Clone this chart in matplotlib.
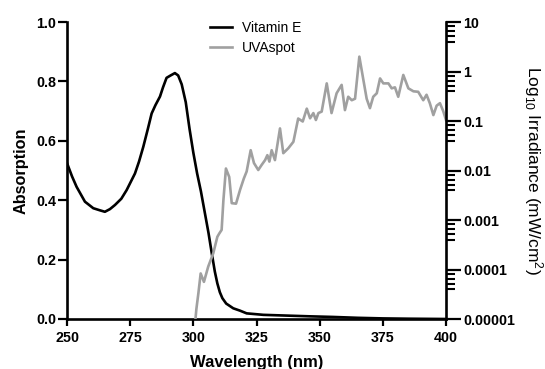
import numpy as np
import matplotlib
matplotlib.use('Agg')
import matplotlib.pyplot as plt
import matplotlib.ticker as ticker

plt.rcParams['font.family'] = ['Liberation Sans', 'DejaVu Sans']
plt.rcParams['mathtext.fontset'] = 'custom'
plt.rcParams['mathtext.rm'] = 'Liberation Sans'
plt.rcParams['mathtext.it'] = 'Liberation Sans:italic'
plt.rcParams['mathtext.bf'] = 'Liberation Sans:bold'

# Vitamin E absorption spectrum
vite_nm = [250, 252, 253.8, 257.1, 260.4, 263, 265, 267, 269, 271.5, 273.6, 276.9,
           278.5, 280.2, 282, 283.5, 285, 286.8, 288, 289.4, 291, 292.7, 294, 295.4,
           297, 298.5, 300, 301.5, 303, 304.5, 306, 307.3, 308.5, 309.5, 310.5, 311.5,
           313, 315.8, 318.5, 321.1, 327.7, 335, 346, 355, 365, 375, 385, 400]
vite_abs = [0.525, 0.48, 0.445, 0.395, 0.373, 0.366, 0.361, 0.37, 0.384, 0.405, 0.434, 0.49,
            0.53, 0.58, 0.64, 0.692, 0.72, 0.749, 0.78, 0.812, 0.82, 0.828, 0.82, 0.79,
            0.73, 0.64, 0.56, 0.49, 0.43, 0.36, 0.29, 0.221, 0.16, 0.12, 0.09, 0.07,
            0.052, 0.036, 0.028, 0.019, 0.014, 0.012, 0.009, 0.007, 0.004, 0.002, 0.001, 0.0]

# UVAspot lamp spectrum, log10 irradiance (mW/cm2)
uva_nm = [300.5, 301.2, 302.0, 302.9, 304.2, 305.9, 307.9, 309.5, 310.3, 311.2, 311.9,
          312.9, 314.2, 315.2, 316.9, 318.5, 320.0, 321.1, 322.7, 324.0, 325.7, 327.0,
          328.4, 329.3, 330.1, 331.0, 332.3, 334.3, 335.6, 337.6, 339.6, 341.5, 343.3,
          344.9, 346.2, 347.5, 348.5, 349.5, 350.8, 352.8, 354.7, 356.7, 358.7, 360.0,
          361.3, 362.7, 364.0, 365.7, 367.3, 368.6, 369.9, 371.2, 372.6, 373.9, 375.2,
          377.2, 378.5, 379.8, 381.1, 383.1, 385.1, 387.1, 389.0, 391.0, 392.3, 393.6,
          395.0, 396.3, 397.6, 398.9, 400.0]
uva_log10 = [-5.2, -4.8, -4.48, -4.08, -4.25, -3.94, -3.67, -3.34, -3.27, -3.2, -2.6,
             -1.96, -2.13, -2.66, -2.67, -2.39, -2.16, -2.02, -1.59, -1.85, -1.99, -1.89,
             -1.79, -1.69, -1.82, -1.59, -1.79, -1.15, -1.65, -1.55, -1.42, -0.95, -1.01,
             -0.75, -0.945, -0.84, -0.98, -0.84, -0.81, -0.24, -0.84, -0.44, -0.27, -0.78,
             -0.51, -0.58, -0.55, 0.30, -0.17, -0.55, -0.74, -0.51, -0.44, -0.14, -0.24,
             -0.24, -0.34, -0.32, -0.51, -0.07, -0.34, -0.40, -0.41, -0.58, -0.47, -0.64,
             -0.88, -0.69, -0.64, -0.80, -0.98]
uva_irr = 10 ** np.array(uva_log10)

x_ticks = [250, 275, 300, 325, 350, 375, 400]
abs_ticks = [0.0, 0.2, 0.4, 0.6, 0.8, 1.0]
irr_ticks = [1e-5, 1e-4, 1e-3, 1e-2, 1e-1, 1, 10]
irr_labels = ['0.00001', '0.0001', '0.001', '0.01', '0.1', '1', '10']

gray = '#a0a0a0'

fig = plt.figure(figsize=(5.45, 3.69), dpi=100)
ax1 = fig.add_axes([67 / 545, 1 - 319 / 369, 379 / 545, 297 / 369])
ax2 = ax1.twinx()

l1, = ax1.plot(vite_nm, vite_abs, color='black', lw=1.9, label='Vitamin E', zorder=3)
l2, = ax2.plot(uva_nm, uva_irr, color=gray, lw=1.9, label='UVAspot')

ax1.set_xlim(250, 400)
ax1.set_ylim(0, 1.0)
ax1.set_xticks(x_ticks)
ax1.set_yticks(abs_ticks)
ax1.yaxis.set_major_formatter(ticker.FormatStrFormatter('%.1f'))

ax2.set_yscale('log')
ax2.set_ylim(1e-5, 10)
ax2.yaxis.set_major_locator(ticker.FixedLocator(irr_ticks))
ax2.yaxis.set_major_formatter(ticker.FixedFormatter(irr_labels))
# only a few minor ticks show in each decade
ax2.yaxis.set_minor_locator(ticker.LogLocator(base=10, subs=(4, 5.1, 6.5, 8.2), numticks=20))
ax2.yaxis.set_minor_formatter(ticker.NullFormatter())

for s in ['top', 'right']:
    ax1.spines[s].set_visible(False)
for s in ['top', 'left', 'bottom']:
    ax2.spines[s].set_visible(False)
for s in ['left', 'bottom']:
    ax1.spines[s].set_linewidth(1.9)
ax2.spines['right'].set_linewidth(1.9)

ax1.tick_params(axis='y', direction='out', length=6.5, width=1.6, pad=1.5)
ax1.tick_params(axis='x', direction='out', length=5, width=1.6, pad=3.5)
ax2.tick_params(axis='y', which='major', direction='out', length=11, width=1.6, pad=1.5)
ax2.tick_params(axis='y', which='minor', direction='out', length=6.5, width=1.5)

for lab in ax1.get_xticklabels() + ax1.get_yticklabels() + ax2.get_yticklabels():
    lab.set_fontsize(10.3)
    lab.set_fontweight('bold')

ax1.set_xlabel('Wavelength (nm)', fontsize=12, fontweight='bold')
ax1.xaxis.set_label_coords(0.5, (319 - 363) / 297)
ax1.xaxis.label.set_va('center')
ax1.set_ylabel('Absorption', fontsize=11.7, fontweight='bold')
ax1.yaxis.set_label_coords((21.5 - 67) / 379, 0.5)
ax1.yaxis.label.set_va('center')
ax2.set_ylabel(r'Log$_{10}$ Irradiance (mW/cm$^{2}$)', fontsize=12.5, rotation=270)
ax2.yaxis.set_label_coords((533 - 67) / 379, 0.5)
ax2.yaxis.label.set_va('center')

fig.legend([l1, l2], ['Vitamin E', 'UVAspot'], loc='upper left',
           bbox_to_anchor=(210 / 545, 1 - 21 / 369), bbox_transform=fig.transFigure,
           frameon=False, fontsize=10, handlelength=1.56, handletextpad=0.72,
           labelspacing=0.45, borderpad=0, borderaxespad=0)

fig.savefig('out.png', dpi=100)
